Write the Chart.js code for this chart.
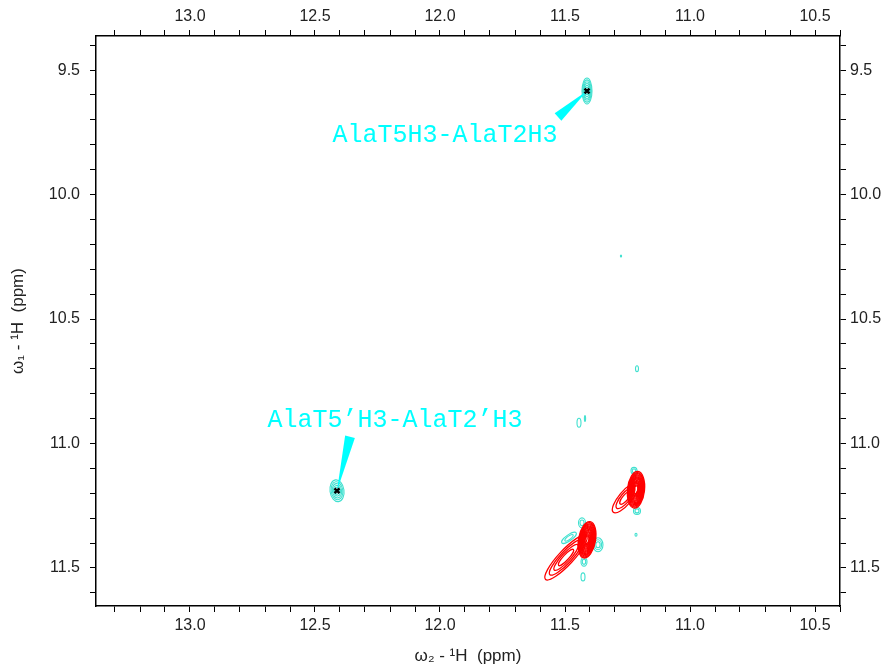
<!DOCTYPE html>
<html>
<head>
<meta charset="utf-8">
<script src="https://cdn.jsdelivr.net/npm/chart.js@4.4.0/dist/chart.umd.min.js"></script>
<style>
html, body { margin: 0; padding: 0; background: #fff; }
canvas { display: block; }
</style>
</head>
<body>
<canvas id="nmr" width="889" height="671"></canvas>
<script>
// axis ranges (ppm)
const xRange = [10.4, 13.376];
const yRange = [9.363, 11.653];
const xMajorTicks = [13.0, 12.5, 12.0, 11.5, 11.0, 10.5];
const yMajorTicks = [9.5, 10.0, 10.5, 11.0, 11.5];
const minorStep = 0.1;

// positive contours (cyan): centre, half widths in ppm, tilt, number of levels
const posX      = [11.412, 12.412, 11.432, 11.368, 11.484, 11.424, 11.428, 11.224, 11.212, 11.216, 11.212, 11.444, 11.420, 11.276];
const posY      = [9.584, 11.190, 11.319, 11.407, 11.379, 11.475, 11.536, 11.110, 11.271, 11.367, 10.700, 10.917, 10.900, 10.247];
const posRX     = [0.020, 0.028, 0.014, 0.020, 0.035, 0.012, 0.008, 0.012, 0.014, 0.004, 0.006, 0.008, 0.002, 0.002];
const posRY     = [0.052, 0.044, 0.020, 0.028, 0.012, 0.018, 0.016, 0.014, 0.014, 0.006, 0.012, 0.018, 0.012, 0.004];
const posAngle  = [0, -8, 0, 0, -35, 0, 0, 0, 0, 0, 0, 0, 0, 0];
const posLevels = [6, 5, 2, 3, 2, 2, 1, 2, 2, 1, 1, 1, 1, 1];

// negative contours (red)
const negX      = [11.412, 11.496, 11.216, 11.258];
const negY      = [11.387, 11.458, 11.186, 11.218];
const negRX     = [0.034, 0.120, 0.034, 0.076];
const negRY     = [0.074, 0.030, 0.074, 0.026];
const negAngle  = [10, -47, 6, -50];
const negLevels = [14, 4, 14, 3];

// assigned peaks
const markX = [11.412, 12.412];
const markY = [9.584, 11.190];
const labelText = ['AlaT5H3-AlaT2H3', 'AlaT5\u2019H3-AlaT2\u2019H3'];
const labelX = [11.98, 12.18];
const labelY = [9.761, 10.909];
const arrowBaseX = [11.528, 12.36];
const arrowBaseY = [9.688, 10.973];

function buildTicks(lo, hi) {
  const out = [];
  for (let k = Math.ceil(lo / minorStep - 1e-6); k * minorStep <= hi + 1e-9; k++) {
    out.push({ value: +(k * minorStep).toFixed(1) });
  }
  return out;
}

function tickLabel(majors) {
  return v => majors.some(m => Math.abs(m - v) < 1e-6) ? v.toFixed(1) : '';
}

function drawPeaks(ctx, x, y, px, py, rx, ry, ang, lev, color, lw) {
  ctx.strokeStyle = color;
  ctx.lineWidth = lw;
  for (let i = 0; i < px.length; i++) {
    const cx = x.getPixelForValue(px[i]);
    const cy = y.getPixelForValue(py[i]);
    const rxp = Math.abs(x.getPixelForValue(px[i] + rx[i]) - cx);
    const ryp = Math.abs(y.getPixelForValue(py[i] + ry[i]) - cy);
    for (let k = 0; k < lev[i]; k++) {
      const f = 1 - (k / lev[i]) * 0.85;
      ctx.beginPath();
      ctx.ellipse(cx, cy, Math.max(rxp * f, 0.6), Math.max(ryp * f, 0.6), ang[i] * Math.PI / 180, 0, 2 * Math.PI);
      ctx.stroke();
    }
  }
}

const contourPlugin = {
  id: 'contours',
  beforeDatasetsDraw(chart) {
    const { ctx, chartArea: a, scales: { x, y } } = chart;
    ctx.save();
    ctx.beginPath();
    ctx.rect(a.left, a.top, a.right - a.left, a.bottom - a.top);
    ctx.clip();
    drawPeaks(ctx, x, y, posX, posY, posRX, posRY, posAngle, posLevels, '#3fe0cf', 1.1);
    drawPeaks(ctx, x, y, negX, negY, negRX, negRY, negAngle, negLevels, '#ff0000', 1.3);

    // wedge arrows from labels to peaks
    ctx.fillStyle = '#00ffff';
    for (let i = 0; i < markX.length; i++) {
      const tx = x.getPixelForValue(markX[i]), ty = y.getPixelForValue(markY[i]);
      const bx = x.getPixelForValue(arrowBaseX[i]), by = y.getPixelForValue(arrowBaseY[i]);
      const len = Math.hypot(tx - bx, ty - by);
      const nx = -(ty - by) / len * 5, ny = (tx - bx) / len * 5;
      ctx.beginPath();
      ctx.moveTo(bx + nx, by + ny);
      ctx.lineTo(tx, ty);
      ctx.lineTo(bx - nx, by - ny);
      ctx.closePath();
      ctx.fill();
    }

    ctx.font = '25px "Courier New", "Liberation Mono", monospace';
    ctx.textAlign = 'center';
    ctx.textBaseline = 'middle';
    for (let i = 0; i < labelText.length; i++) {
      ctx.fillText(labelText[i], x.getPixelForValue(labelX[i]), y.getPixelForValue(labelY[i]));
    }
    ctx.restore();
  }
};

const tickFont = { family: '"Liberation Sans", Arial, sans-serif', size: 16 };
const titleFont = { family: '"Liberation Sans", Arial, sans-serif', size: 17 };
const gridOpts = { drawOnChartArea: false, color: '#000', tickLength: 6, tickWidth: 1 };
const borderOpts = { display: true, color: '#000', width: 1.5 };

function xAxis(pos, height, title) {
  return {
    type: 'linear', position: pos, reverse: true, min: xRange[0], max: xRange[1],
    afterBuildTicks: s => { s.ticks = buildTicks(xRange[0], xRange[1]); },
    afterFit: s => { s.height = height; },
    ticks: { callback: tickLabel(xMajorTicks), autoSkip: false, maxRotation: 0, font: tickFont, color: '#222', padding: 4 },
    grid: gridOpts, border: borderOpts,
    title: title ? { display: true, text: title, font: titleFont, color: '#222', padding: { top: 0, bottom: 4 } } : { display: false }
  };
}

function yAxis(pos, width, title) {
  return {
    type: 'linear', position: pos, reverse: true, min: yRange[0], max: yRange[1],
    afterBuildTicks: s => { s.ticks = buildTicks(yRange[0], yRange[1]); },
    afterFit: s => { s.width = width; },
    ticks: { callback: tickLabel(yMajorTicks), autoSkip: false, font: tickFont, color: '#222', padding: pos === 'left' ? 10 : 4 },
    grid: gridOpts, border: borderOpts,
    title: title ? { display: true, text: title, font: titleFont, color: '#222', padding: { top: 8, bottom: 0 } } : { display: false }
  };
}

new Chart(document.getElementById('nmr'), {
  type: 'scatter',
  data: {
    datasets: [{
      label: 'assigned',
      data: markX.map((v, i) => ({ x: v, y: markY[i] })),
      pointStyle: 'crossRot',
      pointRadius: 3.5,
      borderColor: '#000',
      borderWidth: 2.5,
      xAxisID: 'x',
      yAxisID: 'y'
    }]
  },
  options: {
    responsive: false,
    animation: false,
    devicePixelRatio: 1,
    layout: { padding: 0 },
    plugins: { legend: { display: false }, tooltip: { enabled: false } },
    scales: {
      x: xAxis('bottom', 65, '\u03c9\u2082 - \u00b9H  (ppm)'),
      x2: xAxis('top', 36, null),
      y: yAxis('left', 96, '\u03c9\u2081 - \u00b9H  (ppm)'),
      y2: yAxis('right', 49, null)
    }
  },
  plugins: [contourPlugin]
});
</script>
</body>
</html>
